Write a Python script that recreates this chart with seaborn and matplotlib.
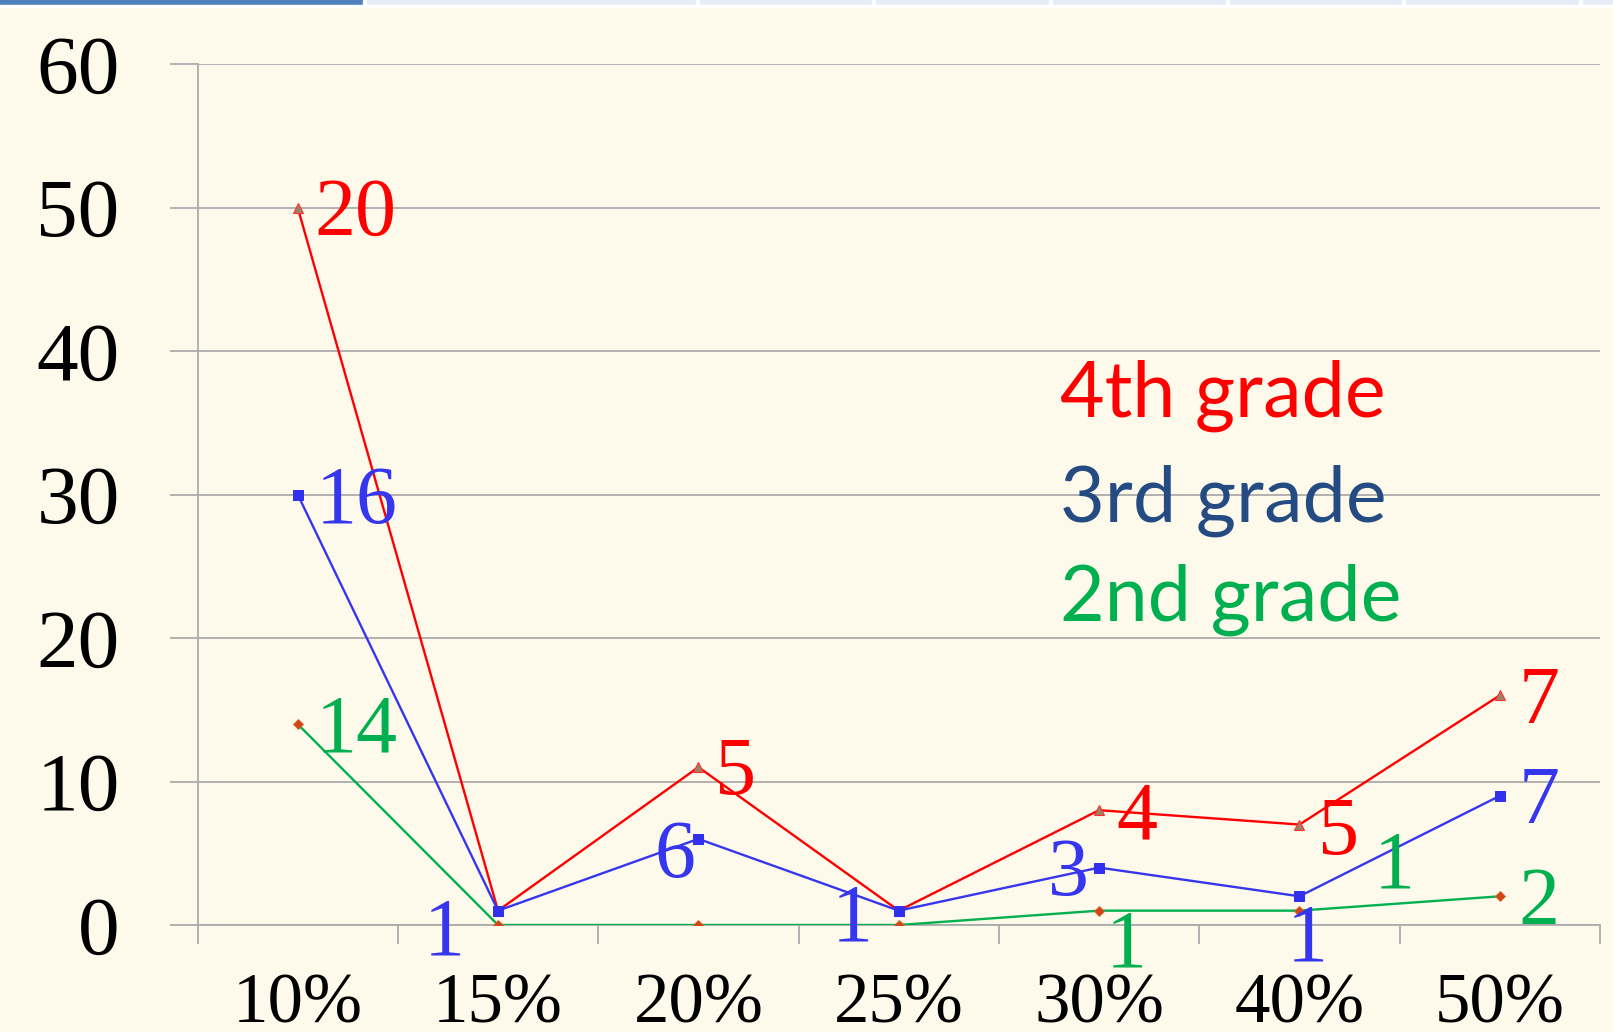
import numpy as np
import pandas as pd
import matplotlib.pyplot as plt
import seaborn as sns
from matplotlib.patches import Rectangle

# chart data
categories = ['10%', '15%', '20%', '25%', '30%', '40%', '50%']
grade4 = [50, 1, 11, 1, 8, 7, 16]
grade3 = [30, 1, 6, 1, 4, 2, 9]
grade2 = [14, 0, 0, 0, 1, 1, 2]

labels4 = ['20', '', '5', '', '4', '5', '7']
labels3 = ['16', '1', '6', '1', '3', '1', '7']
labels2 = ['14', '', '', '', '1', '1', '2']

y_ticks = [0, 10, 20, 30, 40, 50, 60]
series_names = ['4th grade', '3rd grade', '2nd grade']

# label placement (pixel offsets from the point, text alignment)
offsets4 = [(17, -27, 'left'), None, (17, -27, 'left'), None,
            (17, -28, 'left'), (19, -29, 'left'), (19, -28, 'left')]
offsets3 = [(18, -28, 'left'), (-33, -44, 'right'), (-3, -38, 'right'),
            (-26, -30, 'right'), (-10, -27, 'right'), (8, -64, 'center'),
            (19, -27, 'left')]
offsets2 = [(18, -27, 'left'), None, None, None, (27, -56, 'center'),
            (95, 23, 'center'), (19, -28, 'left')]

bg = '#FEFAEB'
grid_col = '#ABABAB'
line_cols = ['#FF0000', '#3636EE', '#00B050']
name_cols = ['#FF0000', '#254C82', '#00B050']

sns.set_style('white')
plt.rcParams['font.family'] = ['Liberation Serif', 'DejaVu Serif']
plt.rcParams['text.color'] = 'black'
plt.rcParams['xtick.color'] = 'black'
plt.rcParams['ytick.color'] = 'black'

fig = plt.figure(figsize=(16.13, 10.32), dpi=100, facecolor=bg)
ax = fig.add_axes([197.5 / 1613, 1 - 925 / 1032, 1402.5 / 1613, 861 / 1032])
ax.set_facecolor(bg)

df = pd.DataFrame({
    'pos': np.tile(np.arange(len(categories)), 3),
    'value': grade4 + grade3 + grade2,
    'grade': np.repeat(series_names, len(categories)),
})

marker_styles = [
    dict(marker='^', markersize=7.5, markerfacecolor='#9C8266', markeredgecolor='#FF3030', markeredgewidth=0.8),
    dict(marker='s', markersize=6.5, markerfacecolor='#3030EE', markeredgecolor='#3030EE'),
    dict(marker='D', markersize=5, markerfacecolor='#D0451B', markeredgecolor='#E06020', markeredgewidth=0.6),
]

for name, col, ms in zip(series_names, line_cols, marker_styles):
    sub = df[df['grade'] == name]
    sns.lineplot(data=sub, x='pos', y='value', color=col, linewidth=1.7, ax=ax,
                 legend=False, zorder=3, **ms)

# data labels
for vals, labs, offs, col in zip([grade4, grade3, grade2], [labels4, labels3, labels2],
                                 [offsets4, offsets3, offsets2], line_cols):
    for i, (v, lab, off) in enumerate(zip(vals, labs, offs)):
        if not lab:
            continue
        dx, dy, ha = off
        ax.annotate(lab, xy=(i, v), xytext=(dx, dy), textcoords='offset pixels',
                    ha=ha, va='baseline', fontsize=59, color=col, zorder=4)

ax.set_xlim(-0.5, len(categories) - 0.5)
ax.set_ylim(0, 60)
ax.set_yticks(y_ticks)
ax.set_yticklabels([str(t) for t in y_ticks])
ax.set_xticks(np.arange(len(categories)))
ax.set_xticklabels(categories)
ax.set_xticks(np.arange(-0.5, len(categories), 1), minor=True)
ax.set_xlabel('')
ax.set_ylabel('')

ax.grid(axis='y', color=grid_col, linewidth=1.3)
ax.set_axisbelow(True)
for s in ['top', 'right']:
    ax.spines[s].set_visible(False)
for s in ['left', 'bottom']:
    ax.spines[s].set_color(grid_col)
    ax.spines[s].set_linewidth(1.3)

ax.tick_params(axis='y', which='major', length=20, width=1.3, color=grid_col,
               labelcolor='black', direction='out', labelsize=60, pad=36, left=True)
ax.tick_params(axis='x', which='major', length=0, labelsize=51, labelcolor='black', pad=34)
ax.tick_params(axis='x', which='minor', length=14, width=1.3, color=grid_col,
               direction='out', bottom=True)

# series names
name_font = ['Lato', 'DejaVu Sans']
for name, col, yb in zip(series_names, name_cols, [0.590, 0.469, 0.354]):
    ax.text(0.615, yb, name, transform=ax.transAxes, ha='left', va='baseline',
            fontsize=55.5, color=col, family=name_font)

# slide tab strip on top
fig.add_artist(Rectangle((0, 1 - 5 / 1032), 1, 5 / 1032, transform=fig.transFigure,
                         color='#E6ECF6', zorder=10))
fig.add_artist(Rectangle((0, 1 - 5 / 1032), 363 / 1613, 5 / 1032, transform=fig.transFigure,
                         color='#4F81BD', zorder=11))
for gx in [363, 696, 872, 1049, 1226, 1402, 1579]:
    fig.add_artist(Rectangle((gx / 1613, 1 - 5 / 1032), 3 / 1613, 5 / 1032,
                             transform=fig.transFigure, color='white', zorder=12))
fig.add_artist(Rectangle((0, 1 - 7 / 1032), 1, 2 / 1032, transform=fig.transFigure,
                         color='white', zorder=12))

fig.savefig('out.png', dpi=100, facecolor=bg)
